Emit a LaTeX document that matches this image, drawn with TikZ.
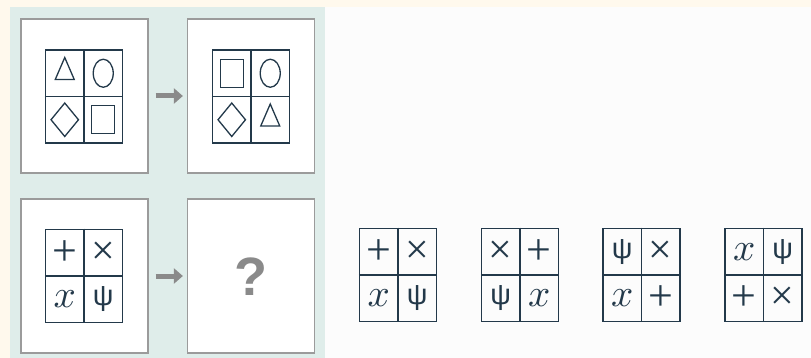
\documentclass[tikz,border=0pt]{standalone}
\usepackage{graphicx}
\usepackage{fontspec}
\usepackage{tikz}
\usetikzlibrary{arrows.meta,shapes.geometric,calc}
\newfontfamily\symfont{Liberation Sans}
\newfontfamily\opfont{Liberation Serif}
\newfontfamily\qfont{Liberation Sans}
\definecolor{panelTeal}{RGB}{223,237,234}
\definecolor{pageCream}{RGB}{255,249,237}
\definecolor{frameGray}{RGB}{155,155,155}
\definecolor{gridNavy}{RGB}{35,57,74}
\definecolor{arrowGray}{RGB}{138,138,138}

\tikzset{
  frame/.style={draw=frameGray, line width=1.2pt, fill=white, minimum width=127pt, minimum height=154pt, inner sep=0pt},
  gridbox/.style={draw=gridNavy, line width=1.5pt, minimum width=77pt, minimum height=93pt, inner sep=0pt},
  gridline/.style={draw=gridNavy, line width=1.5pt},
  shapeline/.style={draw=gridNavy, line width=1.3pt, inner sep=0pt, node contents={}},
  tri/.style={shapeline, isosceles triangle, shape border rotate=90, isosceles triangle stretches, minimum width=19pt, minimum height=22pt},
  oval/.style={shapeline, ellipse, minimum width=20pt, minimum height=28pt},
  dia/.style={shapeline, diamond, minimum width=28pt, minimum height=34pt},
  sq/.style={shapeline, rectangle, minimum width=23pt, minimum height=28pt},
  sym/.style={text=gridNavy, inner sep=0pt},
  plussym/.style={sym, font=\opfont\fontsize{44}{44}\selectfont, node contents=+},
  timessym/.style={sym, font=\opfont\fontsize{42}{42}\selectfont, node contents=×},
  chisym/.style={sym, node contents=\scalebox{3.9}{$x$}},
  psisym/.style={sym, font=\symfont\fontsize{29}{29}\selectfont, node contents=ψ},
  qmark/.style={text=arrowGray, font=\qfont\bfseries\fontsize{54}{54}\selectfont, inner sep=0pt},
  moveto/.style={-{Triangle[length=9pt,width=15pt]}, draw=arrowGray, line width=5pt, shorten <=7pt, shorten >=4pt},
}

% one 2x2 grid: name, centre, four cells
\newcommand{\symgrid}[6]{%
  \node[gridbox] (#1) at (#2) {};
  \draw[gridline] (#1.north) -- (#1.south);
  \draw[gridline] (#1.west) -- (#1.east);
  \node (#1-a) at ($(#1.center)+(-19.25,-23.25)$) [#3];
  \node (#1-b) at ($(#1.center)+(19.25,-23.25)$) [#4];
  \node (#1-c) at ($(#1.center)+(-19.25,23.25)$) [#5];
  \node (#1-d) at ($(#1.center)+(19.25,23.25)$) [#6];
}

\begin{document}
\begin{tikzpicture}[x=1pt, y=-1pt]
  \useasboundingbox (0,0) rectangle (811,358);
  \fill[pageCream] (0,0) rectangle (811,358);
  \fill[white!99!black] (10,7) rectangle (811,358);
  \fill[panelTeal] (10,7) rectangle (325,358);

  % example pair and question pair
  \node[frame] (f1) at (84.5,96) {};
  \node[frame] (f2) at (251,96) {};
  \node[frame] (f3) at (84.5,276) {};
  \node[frame] (f4) at (251,276) {};
  \draw[moveto] (f1) -- (f2);
  \draw[moveto] (f3) -- (f4);

  \symgrid{g1}{84,96.5}{tri}{oval}{dia}{sq}
  \symgrid{g2}{251,96.5}{sq}{oval}{dia}{tri}
  \symgrid{g3}{84,276}{plussym}{timessym}{chisym}{psisym}
  \node[qmark] (q) at (251,277) {?};

  % answer options
  \symgrid{ga}{398,275}{plussym}{timessym}{chisym}{psisym}
  \symgrid{gb}{520,275}{timessym}{plussym}{psisym}{chisym}
  \symgrid{gc}{641.5,275}{psisym}{timessym}{chisym}{plussym}
  \symgrid{gd}{763.5,275}{chisym}{psisym}{plussym}{timessym}
\end{tikzpicture}
\end{document}
